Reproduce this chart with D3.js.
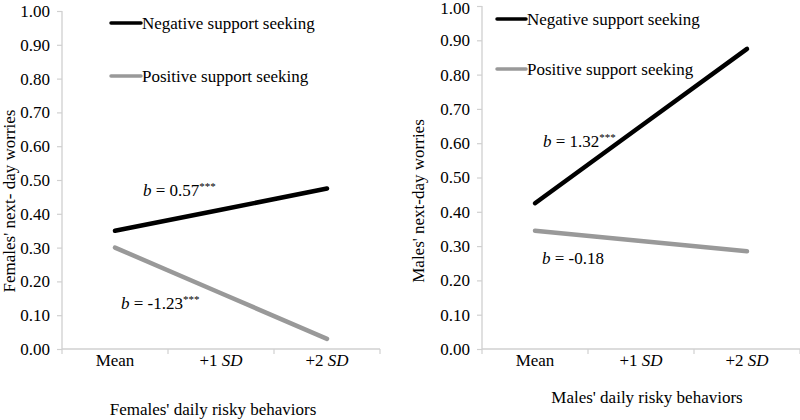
<!DOCTYPE html>
<html>
<head>
<meta charset="utf-8">
<script src="https://cdn.jsdelivr.net/npm/d3@7"></script>
<style>
  body { margin: 0; background: #fff; }
  svg text { font-family: 'Liberation Serif', 'Times New Roman', Times, serif; }
</style>
</head>
<body>
<svg id="chart" width="800" height="420" font-family="Liberation Serif"></svg>
<script>
const categories = ["Mean", "+1 SD", "+2 SD"];
const yTicks = [0, 0.1, 0.2, 0.3, 0.4, 0.5, 0.6, 0.7, 0.8, 0.9, 1.0];
const seriesNames = ["Negative support seeking", "Positive support seeking"];
const femalesNegative = [0.35, 0.412, 0.475];
const femalesPositive = [0.30, 0.165, 0.03];
const malesNegative = [0.425, 0.65, 0.875];
const malesPositive = [0.345, 0.315, 0.285];
const femalesNotes = [{b: "0.57", stars: "***"}, {b: "-1.23", stars: "***"}];
const malesNotes = [{b: "1.32", stars: "***"}, {b: "-0.18", stars: ""}];

const svg = d3.select("#chart");
const FS = 17;
const FONT = "Liberation Serif";
const axisColor = "#d0d0d0";
const colors = ["#000000", "#999999"];

const panels = [
  {
    x0: 62, x1: 380, yTop: 11, yBottom: 349,
    series: [femalesNegative, femalesPositive],
    notes: femalesNotes,
    notePos: [[143, 196], [121, 309]],
    legend: {x0: 111, x1: 141, ys: [23, 76]},
    yTitle: "Females' next- day worries", yTitleX: 15, yTitleY: 201,
    xTitle: "Females' daily risky behaviors", xTitleX: 213, xTitleY: 415
  },
  {
    x0: 482, x1: 800, yTop: 6, yBottom: 349,
    series: [malesNegative, malesPositive],
    notes: malesNotes,
    notePos: [[543, 147], [542, 264]],
    legend: {x0: 497, x1: 526, ys: [19, 69]},
    yTitle: "Males' next-day worries", yTitleX: 424, yTitleY: 201,
    xTitle: "Males' daily risky behaviors", xTitleX: 647, xTitleY: 403
  }
];

panels.forEach(p => {
  const g = svg.append("g").attr("font-family", FONT);
  const xBand = d3.scaleBand().domain(categories).range([p.x0, p.x1]);
  const y = d3.scaleLinear().domain([0, 1]).range([p.yBottom, p.yTop]);
  const xPos = c => xBand(c) + xBand.bandwidth() / 2;

  // y axis
  const yAxis = d3.axisLeft(y).tickValues(yTicks).tickFormat(d3.format(".2f")).tickSize(5).tickPadding(7);
  const ya = g.append("g").attr("transform", `translate(${p.x0},0)`).call(yAxis)
    .attr("font-family", FONT).attr("font-size", FS);
  ya.select(".domain").attr("stroke", axisColor).attr("stroke-width", 1.3).attr("d", `M0,${p.yBottom}V${p.yTop}`);
  ya.selectAll(".tick line").attr("stroke", axisColor).attr("stroke-width", 1.2);
  ya.selectAll(".tick text").attr("font-size", FS).attr("fill", "#000")
    .attr("font-family", FONT)
    .attr("dy", d => (d === 1 && p.yTop < 8) ? "0.45em" : "0.32em");

  // x axis
  const xAxis = d3.axisBottom(xBand).tickSize(0).tickPadding(0).tickFormat("");
  const xa = g.append("g").attr("transform", `translate(0,${p.yBottom})`).call(xAxis);
  xa.select(".domain").attr("stroke", axisColor).attr("stroke-width", 1.3).attr("d", `M${p.x0},0H${p.x1}`);
  xa.selectAll(".tick").remove();
  const bounds = categories.map(c => xBand(c)).concat([xBand(categories[categories.length - 1]) + xBand.bandwidth()]);
  xa.selectAll("line.bt").data(bounds).enter().append("line")
    .attr("x1", d => d).attr("x2", d => d).attr("y1", 0).attr("y2", 5)
    .attr("stroke", axisColor).attr("stroke-width", 1.2);
  categories.forEach(c => {
    const t = g.append("text").attr("x", xPos(c)).attr("y", 366)
      .attr("text-anchor", "middle").attr("font-size", FS).attr("font-family", FONT);
    const parts = c.split(" ");
    if (parts.length === 1) {
      t.text(c);
    } else {
      t.append("tspan").text(parts[0] + " ");
      t.append("tspan").attr("font-style", "italic").text(parts[1]);
    }
  });

  // lines
  const line = d3.line().x((d, i) => xPos(categories[i])).y(d => y(d));
  p.series.forEach((s, i) => {
    g.append("path").datum(s).attr("d", line)
      .attr("fill", "none").attr("stroke", colors[i]).attr("stroke-width", 4.5)
      .attr("stroke-linecap", "round");
  });

  // legend
  seriesNames.forEach((n, i) => {
    const ly = p.legend.ys[i];
    g.append("line").attr("x1", p.legend.x0).attr("x2", p.legend.x1)
      .attr("y1", ly).attr("y2", ly).attr("stroke", colors[i]).attr("stroke-width", 3.5)
      .attr("stroke-linecap", "round");
    g.append("text").attr("x", p.legend.x1 + 1).attr("y", ly + 5.5)
      .attr("font-size", FS).attr("font-family", FONT).text(n);
  });

  // annotations
  p.notes.forEach((n, i) => {
    const [nx, ny] = p.notePos[i];
    const t = g.append("text").attr("x", nx).attr("y", ny).attr("font-size", FS).attr("font-family", FONT);
    t.append("tspan").attr("font-style", "italic").text("b");
    t.append("tspan").text(" = " + n.b);
    if (n.stars) {
      t.append("tspan").attr("font-size", 11).attr("dy", -6).text(n.stars);
    }
  });

  // axis titles
  g.append("text")
    .attr("transform", `translate(${p.yTitleX},${p.yTitleY}) rotate(-90)`)
    .attr("text-anchor", "middle").attr("font-size", FS).attr("font-family", FONT).text(p.yTitle);
  g.append("text").attr("x", p.xTitleX).attr("y", p.xTitleY)
    .attr("text-anchor", "middle").attr("font-size", FS).attr("font-family", FONT).text(p.xTitle);
});
</script>
</body>
</html>
